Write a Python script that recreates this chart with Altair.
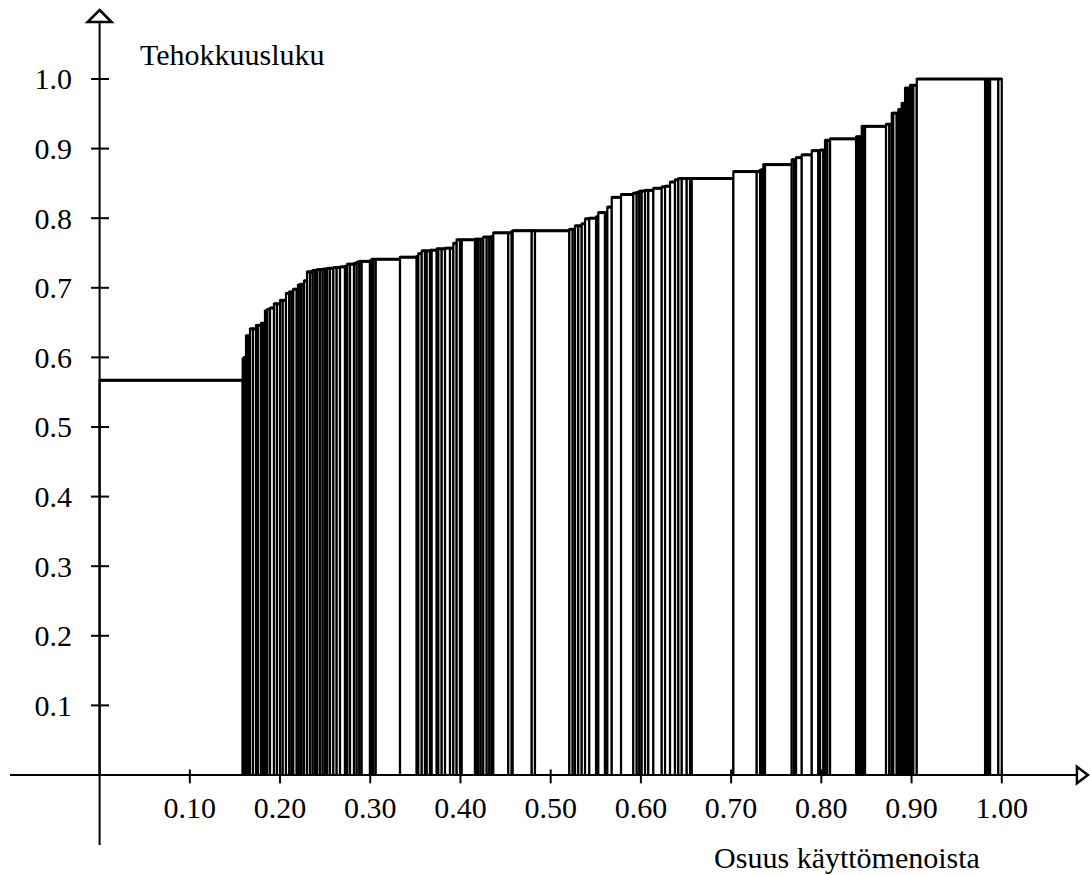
import altair as alt
import pandas as pd

# Efficiency score (Tehokkuusluku) of each unit, sorted ascending
scores = [
    0.567, 0.598, 0.600, 0.631, 0.631, 0.641, 0.641, 0.646, 0.646, 0.649,
    0.649, 0.667, 0.669, 0.671, 0.677, 0.677, 0.682, 0.682, 0.692, 0.694,
    0.694, 0.698, 0.698, 0.704, 0.705, 0.705, 0.710, 0.723, 0.723, 0.725,
    0.725, 0.726, 0.726, 0.727, 0.727, 0.728, 0.728, 0.729, 0.729, 0.730,
    0.731, 0.734, 0.734, 0.735, 0.737, 0.738, 0.738, 0.739, 0.741, 0.741,
    0.741, 0.744, 0.745, 0.749, 0.753, 0.753, 0.753, 0.754, 0.754, 0.756,
    0.756, 0.756, 0.757, 0.757, 0.764, 0.769, 0.769, 0.769, 0.770, 0.770,
    0.770, 0.770, 0.773, 0.773, 0.773, 0.774, 0.779, 0.779, 0.781, 0.782,
    0.782, 0.782, 0.784, 0.784, 0.789, 0.789, 0.792, 0.799, 0.800, 0.802,
    0.808, 0.808, 0.816, 0.830, 0.834, 0.836, 0.837, 0.839, 0.839, 0.840,
    0.840, 0.843, 0.845, 0.846, 0.852, 0.855, 0.857, 0.857, 0.857, 0.857,
    0.857, 0.867, 0.867, 0.869, 0.870, 0.877, 0.877, 0.884, 0.884, 0.887,
    0.891, 0.897, 0.897, 0.898, 0.898, 0.912, 0.912, 0.914, 0.917, 0.917,
    0.917, 0.932, 0.932, 0.932, 0.935, 0.935, 0.951, 0.951, 0.951, 0.956,
    0.956, 0.965, 0.965, 0.987, 0.987, 0.987, 0.991, 0.991, 0.991, 1.000,
    1.000, 1.000, 1.000, 1.000, 1.000,
]

# Cumulative share of operating costs (Osuus käyttömenoista) at each unit's right edge
cum_share = [
    0.1586, 0.1601, 0.1623, 0.1648, 0.1667, 0.1700, 0.1734, 0.1756, 0.1789, 0.1811,
    0.1833, 0.1859, 0.1889, 0.1933, 0.1966, 0.2000, 0.2030, 0.2066, 0.2103, 0.2129,
    0.2147, 0.2185, 0.2199, 0.2221, 0.2240, 0.2266, 0.2299, 0.2332, 0.2362, 0.2388,
    0.2413, 0.2443, 0.2473, 0.2499, 0.2524, 0.2554, 0.2591, 0.2628, 0.2665, 0.2720,
    0.2746, 0.2776, 0.2820, 0.2850, 0.2879, 0.2905, 0.2997, 0.3016, 0.3034, 0.3061,
    0.3330, 0.3515, 0.3533, 0.3571, 0.3607, 0.3626, 0.3662, 0.3681, 0.3737, 0.3755,
    0.3792, 0.3829, 0.3884, 0.3921, 0.3958, 0.3995, 0.4014, 0.4161, 0.4180, 0.4198,
    0.4225, 0.4253, 0.4291, 0.4320, 0.4346, 0.4364, 0.4530, 0.4568, 0.4579, 0.4790,
    0.4826, 0.5207, 0.5244, 0.5270, 0.5306, 0.5344, 0.5381, 0.5428, 0.5503, 0.5528,
    0.5602, 0.5628, 0.5677, 0.5780, 0.5916, 0.5954, 0.5983, 0.6009, 0.6046, 0.6082,
    0.6138, 0.6231, 0.6268, 0.6323, 0.6378, 0.6415, 0.6453, 0.6508, 0.6545, 0.6564,
    0.7025, 0.7284, 0.7321, 0.7340, 0.7357, 0.7376, 0.7672, 0.7698, 0.7720, 0.7783,
    0.7894, 0.7967, 0.7986, 0.8023, 0.8041, 0.8067, 0.8097, 0.8385, 0.8410, 0.8429,
    0.8448, 0.8466, 0.8485, 0.8717, 0.8754, 0.8781, 0.8798, 0.8836, 0.8854, 0.8873,
    0.8891, 0.8909, 0.8928, 0.8947, 0.8965, 0.8983, 0.9002, 0.9020, 0.9058, 0.9815,
    0.9834, 0.9852, 0.9871, 0.9962, 1.0000,
]

x_ticks = [0.1, 0.2, 0.3, 0.4, 0.5, 0.6, 0.7, 0.8, 0.9, 1.0]
x_tick_labels = ["0.10", "0.20", "0.30", "0.40", "0.50", "0.60", "0.70", "0.80", "0.90", "1.00"]
y_ticks = [0.1, 0.2, 0.3, 0.4, 0.5, 0.6, 0.7, 0.8, 0.9, 1.0]
y_tick_labels = ["0.1", "0.2", "0.3", "0.4", "0.5", "0.6", "0.7", "0.8", "0.9", "1.0"]

y_title = "Tehokkuusluku"
x_title = "Osuus käyttömenoista"

FONT = "Liberation Serif"
FS = 30

xs = alt.Scale(domain=[-0.1104, 1.0978], nice=False, zero=False)
ys = alt.Scale(domain=[-0.1437, 1.1135], nice=False, zero=False)

starts = [0.0] + cum_share[:-1]
bars_df = pd.DataFrame({"start": starts, "end": cum_share, "score": scores,
                        "base": [0.0] * len(scores)})

bars = alt.Chart(bars_df).mark_rect(fill="white", stroke="black", strokeWidth=2.2).encode(
    x=alt.X("start:Q", scale=xs, axis=None),
    x2="end:Q",
    y=alt.Y("base:Q", scale=ys, axis=None),
    y2="score:Q",
)
tops = alt.Chart(bars_df).mark_rule(color="black", strokeWidth=3).encode(
    x=alt.X("start:Q", scale=xs, axis=None),
    x2="end:Q",
    y=alt.Y("score:Q", scale=ys, axis=None),
)

# axis lines (crossing at the origin, extending past it)
axis_df = pd.DataFrame({"x": [-0.0993, 0.0], "x2": [1.0835, 0.0],
                        "y": [0.0, -0.1006], "y2": [0.0, 1.085]})
axes = alt.Chart(axis_df).mark_rule(color="black", strokeWidth=2).encode(
    x=alt.X("x:Q", scale=xs, axis=None), x2="x2:Q",
    y=alt.Y("y:Q", scale=ys, axis=None), y2="y2:Q",
)

xt_df = pd.DataFrame({"v": x_ticks, "lab": x_tick_labels,
                      "a": [0.008] * len(x_ticks), "b": [-0.012] * len(x_ticks),
                      "ly": [-0.0618] * len(x_ticks)})
yt_df = pd.DataFrame({"v": y_ticks, "lab": y_tick_labels,
                      "a": [-0.0095] * len(y_ticks), "b": [0.0104] * len(y_ticks),
                      "lx": [-0.0306] * len(y_ticks)})

xticks = alt.Chart(xt_df).mark_rule(color="black", strokeWidth=2).encode(
    x=alt.X("v:Q", scale=xs, axis=None),
    y=alt.Y("a:Q", scale=ys, axis=None), y2="b:Q",
)
yticks = alt.Chart(yt_df).mark_rule(color="black", strokeWidth=2).encode(
    y=alt.Y("v:Q", scale=ys, axis=None),
    x=alt.X("a:Q", scale=xs, axis=None), x2="b:Q",
)
xlabels = alt.Chart(xt_df).mark_text(font=FONT, fontSize=FS, align="center",
                                     baseline="alphabetic", color="black").encode(
    x=alt.X("v:Q", scale=xs, axis=None),
    y=alt.Y("ly:Q", scale=ys, axis=None),
    text="lab:N",
)
ylabels = alt.Chart(yt_df).mark_text(font=FONT, fontSize=FS, align="right",
                                     baseline="alphabetic", dy=10.5, color="black").encode(
    x=alt.X("lx:Q", scale=xs, axis=None),
    y=alt.Y("v:Q", scale=ys, axis=None),
    text="lab:N",
)

titles_df = pd.DataFrame({"x": [0.0448, 0.9758], "y": [1.0201, -0.1336],
                          "t": [y_title, x_title]})
ytitle = alt.Chart(titles_df.iloc[[0]]).mark_text(font=FONT, fontSize=FS, align="left",
                                                   baseline="alphabetic", color="black").encode(
    x=alt.X("x:Q", scale=xs, axis=None), y=alt.Y("y:Q", scale=ys, axis=None), text="t:N")
xtitle = alt.Chart(titles_df.iloc[[1]]).mark_text(font=FONT, fontSize=FS, align="right",
                                                   baseline="alphabetic", color="black").encode(
    x=alt.X("x:Q", scale=xs, axis=None), y=alt.Y("y:Q", scale=ys, axis=None), text="t:N")

arrow_up = alt.Chart(pd.DataFrame({"x": [0.0], "y": [1.0905]})).mark_point(
    shape="M0,-0.5L1,0.5L-1,0.5Z", size=576, filled=True, fill="white",
    stroke="black", strokeWidth=2.5, opacity=1,
).encode(x=alt.X("x:Q", scale=xs, axis=None), y=alt.Y("y:Q", scale=ys, axis=None))
arrow_right = alt.Chart(pd.DataFrame({"x": [1.0894], "y": [0.0]})).mark_point(
    shape="M0.5,0L-0.5,0.75L-0.5,-0.75Z", size=484, filled=True, fill="white",
    stroke="black", strokeWidth=2.5, opacity=1,
).encode(x=alt.X("x:Q", scale=xs, axis=None), y=alt.Y("y:Q", scale=ys, axis=None))

chart = alt.layer(
    bars, tops, axes, xticks, yticks, xlabels, ylabels, ytitle, xtitle, arrow_up, arrow_right
).properties(
    width=1090, height=875,
    autosize=alt.AutoSizeParams(type="none"),
    padding={"left": 0, "top": 0, "right": 0, "bottom": 0},
    background="white",
).configure_view(stroke=None)

chart.save("out.html", embed_options={"renderer": "svg", "actions": False})
